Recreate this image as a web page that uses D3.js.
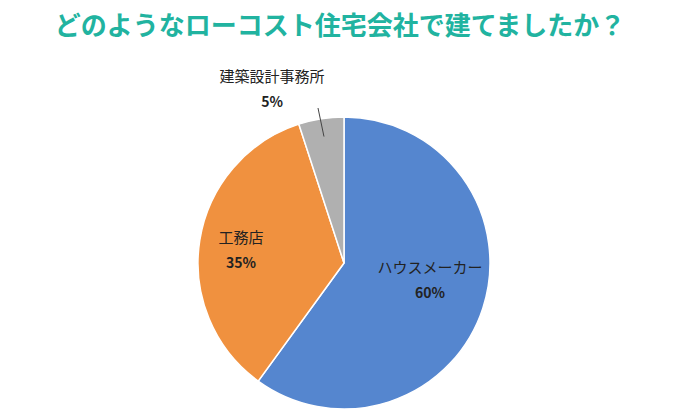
<!DOCTYPE html>
<html><head><meta charset="utf-8">
<script src="https://cdn.jsdelivr.net/npm/d3@7"></script>
<style>body{margin:0;background:#fff}</style>
</head><body>
<svg width="680" height="419"></svg>
<script>
var categories = ['ハウスメーカー', '工務店', '建築設計事務所'];
var values = [60, 35, 5];
var colors = ['#5586cf', '#f0913f', '#b0b0b0'];
var jp = "'Noto Sans CJK JP', 'Noto Sans', sans-serif";

var svg = d3.select('svg');

svg.append('text')
    .attr('x', 340).attr('y', 35)
    .attr('text-anchor', 'middle')
    .attr('font-family', jp).attr('font-weight', 'bold')
    .attr('font-size', 26).attr('fill', '#21b3a0')
    .text('どのようなローコスト住宅会社で建てましたか？');

var cx = 344, cy = 263, r = 146;
var pie = d3.pie().sort(null)(values);
var arc = d3.arc().innerRadius(0).outerRadius(r);

var g = svg.append('g').attr('transform', 'translate(' + cx + ',' + cy + ')');
g.selectAll('path').data(pie).enter().append('path')
    .attr('d', arc)
    .attr('fill', function(d, i) { return colors[i]; })
    .attr('stroke', '#fff').attr('stroke-width', 1.5);

// label positions (offset from centre)
var labelPos = [[86, 10], [-103, -20], [-72, -181]];
pie.forEach(function(d, i) {
    var t = g.append('text')
        .attr('text-anchor', 'middle')
        .attr('font-family', jp).attr('font-size', 15).attr('fill', '#222');
    t.append('tspan').attr('x', labelPos[i][0]).attr('y', labelPos[i][1]).text(categories[i]);
    t.append('tspan').attr('x', labelPos[i][0]).attr('y', labelPos[i][1] + 25)
        .attr('font-weight', 'bold').attr('font-size', 14).text(values[i] + '%');
});

// leader line for the small slice
var mid = (pie[2].startAngle + pie[2].endAngle) / 2;
g.append('line')
    .attr('x1', -26).attr('y1', -155)
    .attr('x2', Math.sin(mid) * (r - 18)).attr('y2', -Math.cos(mid) * (r - 18))
    .attr('stroke', '#444').attr('stroke-width', 1);
</script>
</body></html>
